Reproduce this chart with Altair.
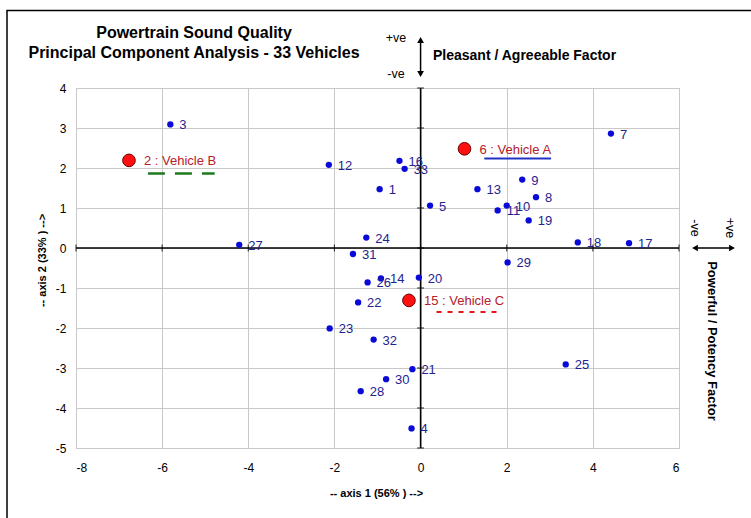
import altair as alt
import pandas as pd

# ---- data ----
ids = [1, 3, 4, 5, 7, 8, 9, 10, 11, 12, 13, 14, 16, 17, 18, 19, 20, 21, 22, 23,
       24, 25, 26, 27, 28, 29, 30, 31, 32, 33]
axis1 = [-0.95, -5.81, -0.21, 0.22, 4.42, 2.68, 2.36, 2.00, 1.79, -2.13, 1.32, -0.92,
         -0.49, 4.84, 3.65, 2.51, -0.04, -0.19, -1.45, -2.11, -1.26, 3.37, -1.23,
         -4.21, -1.39, 2.02, -0.80, -1.57, -1.09, -0.37]
axis2 = [1.47, 3.09, -4.51, 1.06, 2.86, 1.27, 1.71, 1.06, 0.94, 2.08, 1.47, -0.76,
         2.18, 0.12, 0.14, 0.69, -0.74, -3.03, -1.36, -2.01, 0.26, -2.91, -0.86,
         0.08, -3.58, -0.36, -3.28, -0.15, -2.29, 1.98]

veh_labels = ["2 : Vehicle B", "6 : Vehicle A", "15 : Vehicle C"]
veh_axis1 = [-6.77, 1.02, -0.27]
veh_axis2 = [2.19, 2.48, -1.31]

# underline marks beneath the vehicle labels (data units)
ul_start = [-6.33, 1.48, 0.37]
ul_end = [-4.78, 3.03, 1.84]
ul_y = [1.86, 2.24, -1.60]

x_ticks = [-8, -6, -4, -2, 0, 2, 4, 6]
y_ticks = [-5, -4, -3, -2, -1, 0, 1, 2, 3, 4]

FONT = "Liberation Sans"
W, H = 603, 360

pts = pd.DataFrame({"id": [str(i) for i in ids], "a1": axis1, "a2": axis2})
veh = pd.DataFrame({"lab": veh_labels, "a1": veh_axis1, "a2": veh_axis2})
one = pd.DataFrame({"k": [0]})

xs = alt.Scale(domain=[-8, 6], nice=False, zero=False)
ys = alt.Scale(domain=[-5, 4], nice=False, zero=False)

xax = alt.Axis(values=x_ticks, grid=True, gridColor="#c8c8c8", gridWidth=1,
               ticks=False, domain=False, labelFont=FONT, labelFontSize=12,
               labelColor="black", labelPadding=14, labelOverlap=False,
               labelExpr="datum.value + ''",
               title="-- axis 1 (56% ) -->", titleFont=FONT, titleFontSize=11,
               titleFontWeight="bold", titleColor="black",
               titleX=300, titleY=45, titleBaseline="middle", titleAlign="center")
yax = alt.Axis(values=y_ticks, grid=True, gridColor="#c8c8c8", gridWidth=1,
               ticks=False, domain=False, labelFont=FONT, labelFontSize=12,
               labelColor="black", labelPadding=10, labelOverlap=False,
               labelExpr="datum.value + ''",
               title="-- axis 2 (33% ) -->", titleFont=FONT, titleFontSize=11,
               titleFontWeight="bold", titleColor="black", titleAngle=-90,
               titleX=-34, titleY=172, titleBaseline="middle", titleAlign="center")


def X(f):
    return alt.X(f, type="quantitative", scale=xs, axis=xax)


def Y(f):
    return alt.Y(f, type="quantitative", scale=ys, axis=yax)


zero_v = alt.Chart(pd.DataFrame({"a1": [0]})).mark_rule(color="black", strokeWidth=1.5).encode(
    x=X("a1"))
zero_h = alt.Chart(pd.DataFrame({"a2": [0]})).mark_rule(color="black", strokeWidth=1.5).encode(
    y=Y("a2"))

xt = alt.Chart(pd.DataFrame({"a1": x_ticks, "a2": [0] * len(x_ticks)})).mark_tick(
    orient="vertical", color="black", size=7, thickness=1.2).encode(x=X("a1"), y=Y("a2"))
yt = alt.Chart(pd.DataFrame({"a2": y_ticks, "a1": [0] * len(y_ticks)})).mark_tick(
    orient="horizontal", color="black", size=7, thickness=1.2).encode(x=X("a1"), y=Y("a2"))

dots = alt.Chart(pts).mark_circle(color="#0a0ad8", opacity=1, size=40).encode(
    x=X("a1"), y=Y("a2"))
dot_lab = alt.Chart(pts).mark_text(align="left", baseline="middle", dx=9, dy=1,
                                   font=FONT, fontSize=13, color="#23238f").encode(
    x=X("a1"), y=Y("a2"), text="id:N")

vdots = alt.Chart(veh).mark_point(shape="circle", filled=True, fill="#ff1010",
                                  stroke="#6a0000", strokeWidth=1, opacity=1,
                                  size=160).encode(x=X("a1"), y=Y("a2"))
vlab = alt.Chart(veh).mark_text(align="left", baseline="middle", dx=15, dy=1,
                                font=FONT, fontSize=13, color="#b3202b").encode(
    x=X("a1"), y=Y("a2"), text="lab:N")

ul_styles = [("#1e7a1e", [17, 10], 2.5), ("#2233c4", [1, 0], 2), ("#e01818", [5, 6], 2.2)]
ul_layers = []
for i, (col, dash, sw) in enumerate(ul_styles):
    d = pd.DataFrame({"a1": [ul_start[i]], "e": [ul_end[i]], "a2": [ul_y[i]]})
    ul_layers.append(alt.Chart(d).mark_rule(color=col, strokeDash=dash, strokeWidth=sw).encode(
        x=X("a1"), x2="e:Q", y=Y("a2")))

# ---- annotations ----
frame = alt.Chart(one).mark_rect(fill=None, stroke="black", strokeWidth=1.5).encode(
    x=alt.value(-69), x2=alt.value(760), y=alt.value(-77.5), y2=alt.value(460))


def txt(s, x, y, size, bold=False, angle=0, align="center"):
    return alt.Chart(one).mark_text(text=s, font=FONT, fontSize=size,
                                    fontWeight="bold" if bold else "normal",
                                    color="black", angle=angle, align=align,
                                    baseline="middle").encode(
        x=alt.value(x), y=alt.value(y))


title1 = txt("Powertrain Sound Quality", 118, -55, 16, bold=True)
title2 = txt("Principal Component Analysis - 33 Vehicles", 118, -35, 16, bold=True)
pos_top = txt("+ve", 320, -50, 12.5)
neg_top = txt("-ve", 320, -14, 12.5)
pleasant = txt("Pleasant / Agreeable Factor", 357, -32, 14, bold=True, align="left")
neg_r = txt("-ve", 619, 140, 12.5, angle=90)
pos_r = txt("+ve", 654, 140, 12.5, angle=90)
powerful = txt("Powerful / Potency Factor", 636, 253, 13, bold=True, angle=90)

zero_df = pd.DataFrame({"a1": [0], "a2": [0]})
v_arrow = alt.Chart(zero_df).mark_rule(color="black", strokeWidth=1.5).encode(
    x=X("a1"), y=alt.value(-47), y2=alt.value(-15))
v_up = alt.Chart(zero_df).mark_point(shape="triangle-up", filled=True, color="black",
                                     opacity=1, size=45).encode(x=X("a1"), y=alt.value(-48))
v_dn = alt.Chart(zero_df).mark_point(shape="triangle-down", filled=True, color="black",
                                     opacity=1, size=45).encode(x=X("a1"), y=alt.value(-14))
h_arrow = alt.Chart(zero_df).mark_rule(color="black", strokeWidth=1.5).encode(
    y=Y("a2"), x=alt.value(620), x2=alt.value(655))
h_l = alt.Chart(zero_df).mark_point(shape="triangle-left", filled=True, color="black",
                                    opacity=1, size=45).encode(y=Y("a2"), x=alt.value(619))
h_r = alt.Chart(zero_df).mark_point(shape="triangle-right", filled=True, color="black",
                                    opacity=1, size=45).encode(y=Y("a2"), x=alt.value(656))

chart = alt.layer(
    zero_v, zero_h, xt, yt, *ul_layers, dots, dot_lab, vdots, vlab,
    frame, title1, title2, pos_top, neg_top, pleasant, neg_r, pos_r, powerful,
    v_arrow, v_up, v_dn, h_arrow, h_l, h_r,
).properties(
    width=W, height=H,
    padding={"left": 76, "top": 88, "right": 72, "bottom": 70},
    autosize=alt.AutoSizeParams(type="none"),
    background="white",
).configure_view(stroke="#b8b8b8", strokeWidth=1)

chart.save("out.html", embed_options={"renderer": "svg", "actions": False})
